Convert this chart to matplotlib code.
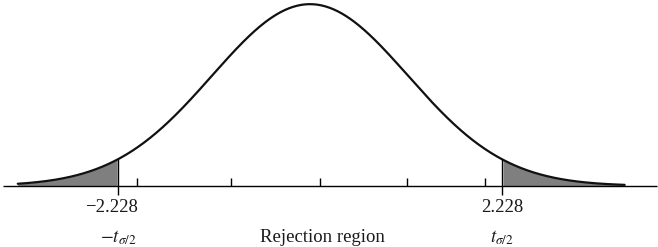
import numpy as np
import matplotlib
matplotlib.use('Agg')
import matplotlib.pyplot as plt

plt.rcParams['font.family'] = ['Liberation Serif', 'DejaVu Serif']
plt.rcParams['mathtext.fontset'] = 'stix'

# critical value and the curve shown (drawn as a bell with sd = t / 1.96)
t_crit = 2.228
curve_sd = t_crit / 1.96
curve_start = -3.39
curve_end = 3.65
tick_values = [-2.01, -0.92, 0.12, 1.13, 2.03]
crit_labels = ['\u22122.228', '2.228']
sym_labels = [r'$-t_{\sigma/2}$', r'$t_{\sigma/2}$']
mid_label = 'Rejection region'


def density(x):
    return np.exp(-0.5 * (x / curve_sd) ** 2) / (curve_sd * np.sqrt(2 * np.pi))


fig = plt.figure(figsize=(6.58, 2.47), dpi=100)
ax = fig.add_axes([0, 0, 1, 1])
ax.set_xlim(-3.596, 4.037)
ax.set_ylim(-0.118, 0.359)
ax.axis('off')

x = np.linspace(curve_start, curve_end, 600)
y = density(x)

# shaded tails
left = x <= -t_crit
right = x >= t_crit
ax.fill_between(x[left], 0, y[left], color='#7f7f7f', lw=0)
ax.fill_between(x[right], 0, y[right], color='#7f7f7f', lw=0)

ax.plot(x, y, color='#111111', lw=1.6, solid_capstyle='round')

# horizontal axis
ax.hlines(0, -3.56, 4.02, color='black', lw=1.0)
tick_h = 0.016
for tv in tick_values:
    ax.vlines(tv, 0, tick_h, color='black', lw=1.0)

# critical value markers
for tc in (-t_crit, t_crit):
    ax.vlines(tc, -0.018, density(tc), color='black', lw=1.0)

fs = 13.5
ax.text(-t_crit - 0.07, -0.041, crit_labels[0], ha='center', va='center',
        fontsize=fs, color='#1a1a1a')
ax.text(t_crit, -0.041, crit_labels[1], ha='center', va='center',
        fontsize=fs, color='#1a1a1a')
ax.text(-t_crit, -0.099, sym_labels[0], ha='center', va='center',
        fontsize=fs, color='#1a1a1a')
ax.text(t_crit, -0.099, sym_labels[1], ha='center', va='center',
        fontsize=fs, color='#1a1a1a')
ax.text(0.14, -0.099, mid_label, ha='center', va='center',
        fontsize=fs, color='#1a1a1a')

fig.savefig('out.png', dpi=100)
